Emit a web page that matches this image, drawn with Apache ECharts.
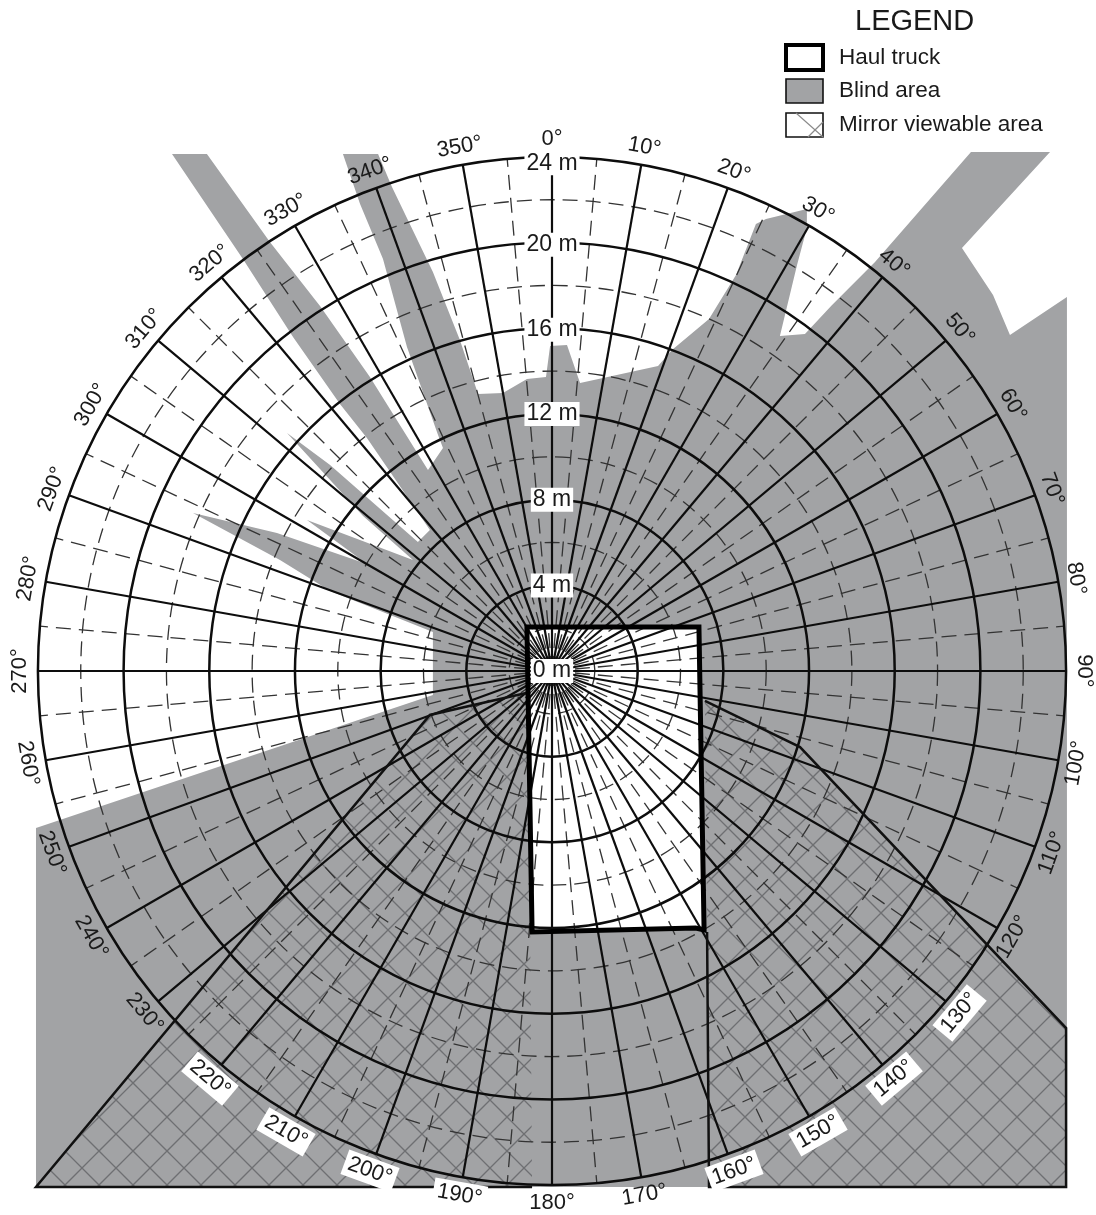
<!DOCTYPE html>
<html><head><meta charset="utf-8">
<style>html,body{margin:0;padding:0;background:#fff}#c{width:1096px;height:1215px}</style>
<script src="https://cdn.jsdelivr.net/npm/echarts@6/dist/echarts.min.js"></script>
</head><body><div id="c"></div>
<script>
// ---- data: everything in metres, origin at the 0 m point, x east, y north ----
const ringsSolid = [4, 8, 12, 16, 20, 24];
const ringsDashed = [2, 6, 10, 14, 18, 22];
const radialsSolid = [0,10,20,30,40,50,60,70,80,90,100,110,120,130,140,150,160,170,180,190,200,210,220,230,240,250,260,270,280,290,300,310,320,330,340,350];
const radialsDashed = [5,15,25,35,45,55,65,75,85,95,105,115,125,135,145,155,165,175,185,195,205,215,225,235,245,255,265,275,285,295,305,315,325,335,345,355];
const boxedAngles = [130,140,150,160,190,200,210,220];
const ringLabels = [[0,0,'0 m'],[0,3.99,'4 m'],[0,8,'8 m'],[0,12,'12 m'],[0,15.93,'16 m'],[0,19.9,'20 m'],[0,23.7,'24 m']];
const blindArea = [[-24.09,-7.33],[-5.56,-1.12],[-5.56,1.82],[-10.36,3.73],[-12.70,5.18],[-16.76,7.38],[-12.84,6.44],[-8.64,5.00],[-11.44,7.05],[-6.49,5.18],[-8.82,7.24],[-12.37,11.11],[-10.36,9.62],[-6.26,6.02],[-5.70,6.58],[-8.64,10.88],[-9.90,12.46],[-12.09,15.59],[-14.43,19.23],[-17.74,24.14],[-16.11,24.14],[-13.17,20.03],[-10.83,17.04],[-8.50,13.73],[-5.79,9.38],[-5.09,10.41],[-5.32,11.02],[-6.77,15.13],[-7.89,19.23],[-8.96,21.80],[-9.76,24.14],[-8.12,24.14],[-7.47,22.60],[-5.56,18.63],[-4.30,15.45],[-3.45,12.93],[-2.29,12.98],[-1.17,13.63],[-0.28,13.73],[-0.09,15.17],[0.70,15.22],[1.31,13.45],[4.95,14.24],[5.60,14.99],[7.33,16.43],[8.59,18.49],[9.52,20.87],[9.99,21.10],[11.90,21.57],[11.90,20.68],[11.44,18.95],[10.64,15.64],[11.81,15.73],[13.03,17.04],[15.08,19.09],[19.56,24.23],[23.25,24.23],[19.14,19.75],[20.59,17.55],[21.38,15.69],[24.04,17.46],[24.04,-24.09],[-24.09,-24.09]];
const mirrorLeft = [[-0.93,-24.09],[-24.09,-24.09],[-5.70,-2.05],[-1.1,-1.0]];
const mirrorRight = [[7.14,-1.40],[11.58,-3.55],[24.0,-16.67],[24.0,-24.09],[7.33,-24.09],[7.24,-12.19]];
const truck = [[-1.17,2.05],[6.86,2.05],[7.10,-12.09],[6.70,-12.0],[-0.93,-12.18]];

const LABEL_R = 24.84;
const PX = 21.42, CX = 552, CY = 671, W = 1096, H = 1215;
const FONT = '"Liberation Sans", Arial, sans-serif';
const GREY = '#a2a3a5';

const TILE = 34;
const tile = document.createElement('canvas');
tile.width = tile.height = TILE;
const g = tile.getContext('2d');
g.strokeStyle = '#6e6f72'; g.lineWidth = 1.3;
g.beginPath();
for (const k of [-TILE, 0, TILE]) {
  g.moveTo(31 + k - 40, 29 - 40); g.lineTo(31 + k + 40, 29 + 40);
  g.moveTo(31 + k - 40, 29 + 40); g.lineTo(31 + k + 40, 29 - 40);
}
g.stroke();

const polySeries = (pts, z, style, closed) => ({
  type: 'custom', coordinateSystem: 'cartesian2d', z, silent: true, clip: false,
  data: [0],
  renderItem: (p, api) => ({
    type: closed ? 'polygon' : 'polyline',
    shape: { points: pts.map(q => api.coord(q)) },
    style
  })
});
const ringSeries = (rs, z, style) => ({
  type: 'custom', coordinateSystem: 'cartesian2d', z, silent: true, clip: false,
  data: rs.map(r => [r]),
  encode: { x: 0 },
  renderItem: (p, api) => {
    const c = api.coord([0, 0]);
    const e = api.coord([api.value(0), 0]);
    return { type: 'circle', shape: { cx: c[0], cy: c[1], r: e[0] - c[0] }, style: Object.assign({ fill: null }, style) };
  }
});
const radialSeries = (as, z, style, rMax) => ({
  type: 'custom', coordinateSystem: 'cartesian2d', z, silent: true, clip: false,
  data: as.map(a => [a]),
  encode: { x: 0 },
  renderItem: (p, api) => {
    const t = api.value(0) * Math.PI / 180;
    const c = api.coord([0, 0]);
    const e = api.coord([rMax * Math.sin(t), rMax * Math.cos(t)]);
    return { type: 'line', shape: { x1: c[0], y1: c[1], x2: e[0], y2: e[1] }, style };
  }
});
const cwRotation = a => a <= 90 ? a : (a < 270 ? a - 180 : a - 360);
const angleItems = radialsSolid.map(a => {
  const t = a * Math.PI / 180;
  const boxed = boxedAngles.includes(a);
  return {
    value: [LABEL_R * Math.sin(t), LABEL_R * Math.cos(t)],
    label: { formatter: a + '°', rotate: -cwRotation(a),
      backgroundColor: boxed ? '#fff' : 'transparent', padding: boxed ? [3, 4, 1, 4] : 0 }
  };
});
const ringItems = ringLabels.map(d => ({ value: [d[0], d[1]], label: { formatter: d[2] } }));
const textSeries = (items, z, extra) => ({
  type: 'scatter', coordinateSystem: 'cartesian2d', z, silent: true, clip: false,
  symbolSize: 1, itemStyle: { color: 'transparent', opacity: 1 }, data: items,
  label: Object.assign({ show: true, position: 'inside', align: 'center', verticalAlign: 'middle',
    fontFamily: FONT, fontSize: 22, color: '#1a1a1a' }, extra)
});

const legendText = (t, x, y, size) => ({ type: 'text', x, y, style: { text: t, fontFamily: FONT, fontSize: size, fill: '#1a1a1a', textVerticalAlign: 'middle' } });

const option = {
  animation: false,
  grid: { left: 0, right: 0, top: 0, bottom: 0 },
  xAxis: { type: 'value', show: false, min: -CX / PX, max: (W - CX) / PX },
  yAxis: { type: 'value', show: false, min: -(H - CY) / PX, max: CY / PX },
  series: [
    polySeries(blindArea, 1, { fill: GREY, stroke: null }, true),
    polySeries(mirrorLeft, 2, { fill: { image: tile, repeat: 'repeat' }, stroke: null }, true),
    polySeries(mirrorRight, 2, { fill: { image: tile, repeat: 'repeat' }, stroke: null }, true),
    polySeries(truck, 3, { fill: '#fff', stroke: null }, true),
    ringSeries(ringsDashed, 4, { stroke: '#333', lineWidth: 1.3, lineDash: [15, 8] }),
    radialSeries(radialsDashed, 4, { stroke: '#333', lineWidth: 1.3, lineDash: [15, 8] }, 24),
    ringSeries(ringsSolid, 5, { stroke: '#0d0d0d', lineWidth: 2.5 }),
    radialSeries(radialsSolid, 5, { stroke: '#0d0d0d', lineWidth: 2.2 }, 24),
    polySeries(mirrorLeft, 6, { fill: null, stroke: '#111', lineWidth: 2.5 }, false),
    polySeries(mirrorRight, 6, { fill: null, stroke: '#111', lineWidth: 2.5 }, false),
    polySeries(truck, 7, { fill: null, stroke: '#000', lineWidth: 5, lineJoin: 'miter' }, true),
    textSeries(angleItems, 8, {}),
    textSeries(ringItems, 9, { fontSize: 23, backgroundColor: '#fff', padding: [1, 2, 0, 2] })
  ],
  graphic: { elements: [
    { type: 'text', x: 855, y: 22, style: { text: 'LEGEND', fontFamily: FONT, fontSize: 29, fill: '#1a1a1a', textVerticalAlign: 'middle' } },
    { type: 'rect', shape: { x: 786, y: 45, width: 37, height: 25 }, style: { fill: '#fff', stroke: '#000', lineWidth: 4 } },
    { type: 'rect', shape: { x: 786, y: 79, width: 37, height: 24 }, style: { fill: GREY, stroke: '#111', lineWidth: 1.6 } },
    { type: 'rect', shape: { x: 786, y: 113, width: 37, height: 24 }, style: { fill: '#fff', stroke: '#111', lineWidth: 1.6 } },
    { type: 'line', shape: { x1: 796, y1: 113, x2: 823, y2: 137 }, style: { stroke: '#8a8a8a', lineWidth: 1.2 } },
    { type: 'line', shape: { x1: 808, y1: 137, x2: 823, y2: 122 }, style: { stroke: '#8a8a8a', lineWidth: 1.2 } },
    legendText('Haul truck', 839, 58, 22.5),
    legendText('Blind area', 839, 91, 22.5),
    legendText('Mirror viewable area', 839, 125, 22.5)
  ] }
};
const chart = echarts.init(document.getElementById('c'), null, { renderer: 'canvas', width: W, height: H });
chart.setOption(option);
</script></body></html>
